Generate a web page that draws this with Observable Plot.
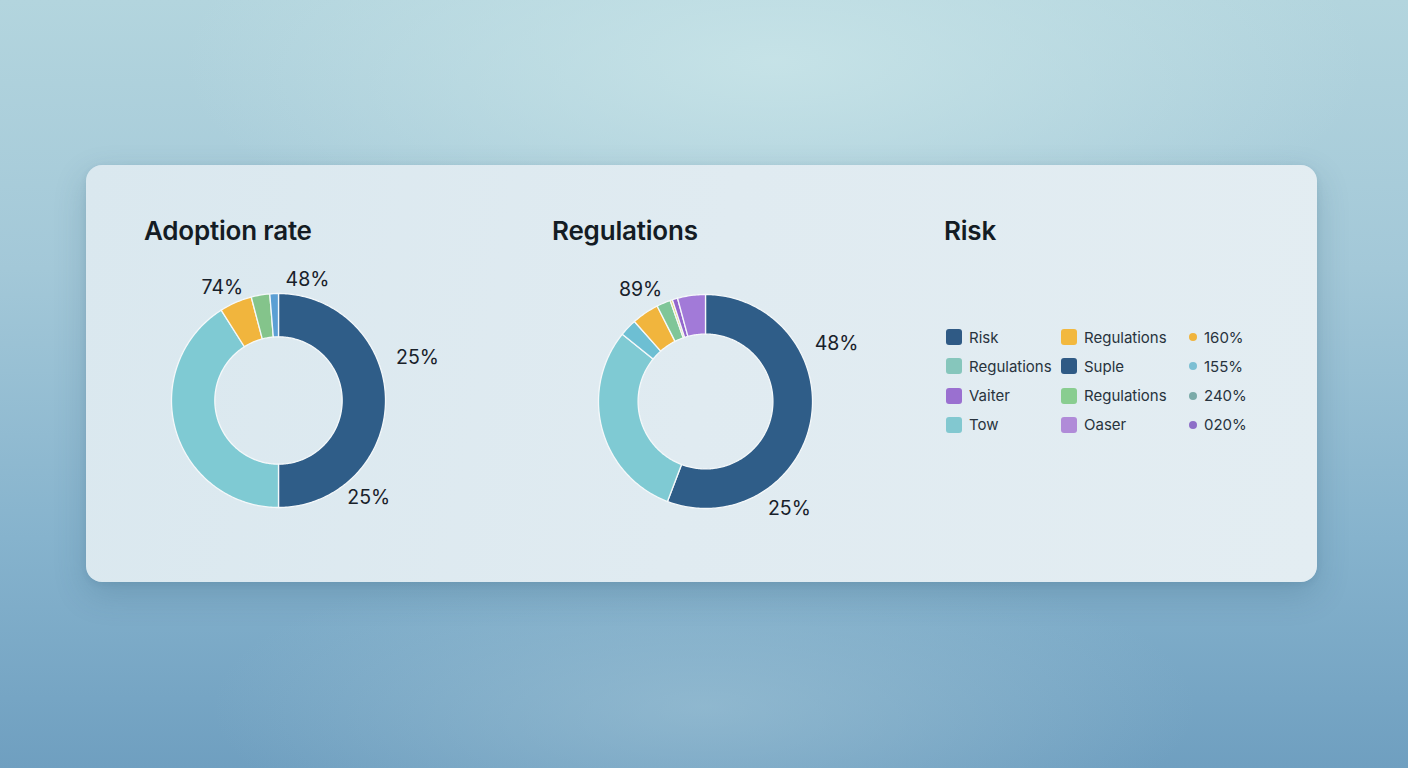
<!DOCTYPE html>
<html>
<head>
<meta charset="utf-8">
<script src="https://cdn.jsdelivr.net/npm/d3@7"></script>
<script src="https://cdn.jsdelivr.net/npm/@observablehq/plot@0.6"></script>
<style>
  html, body { margin: 0; padding: 0; }
  body {
    width: 1408px; height: 768px; overflow: hidden; position: relative;
    font-family: Inter, "Liberation Sans", sans-serif;
    background:
      radial-gradient(ellipse 60% 40% at 55% 8%, rgba(200,228,232,0.9), rgba(200,228,232,0) 70%),
      radial-gradient(ellipse 50% 30% at 50% 92%, rgba(160,196,214,0.6), rgba(160,196,214,0) 70%),
      linear-gradient(180deg, #b3d5de 0%, #a3c8d8 35%, #86b3cd 70%, #6f9fc0 100%);
  }
  .card {
    position: absolute; left: 86px; top: 165px; width: 1231px; height: 417px;
    border-radius: 16px;
    background: linear-gradient(100deg, #dae8ef 0%, #e0ebf1 50%, #e3edf2 100%);
    box-shadow: 0 12px 32px rgba(40, 80, 110, 0.22), 0 2px 6px rgba(40,80,110,0.10);
  }
  .title {
    position: absolute; font-size: 26px; font-weight: 600; color: #141c24;
    letter-spacing: -0.2px; line-height: 1;
  }
  .chart { position: absolute; }
  .chart svg { overflow: visible; }
  .legend { position: absolute; left: 944px; top: 323px; font-size: 15px; color: #28333d; }
  .row { position: absolute; height: 28px; display: flex; align-items: center; white-space: nowrap; }
  .sw { width: 16px; height: 16px; border-radius: 3px; margin-right: 7px; }
  .dot { width: 8px; height: 8px; border-radius: 50%; margin-right: 7px; }
</style>
</head>
<body>
<div class="card"></div>
<div class="title" style="left:144px; top:218px;">Adoption rate</div>
<div class="title" style="left:552px; top:218px;">Regulations</div>
<div class="title" style="left:944px; top:218px;">Risk</div>
<div id="c1" class="chart" style="left:108px; top:230px;"></div>
<div id="c2" class="chart" style="left:535px; top:231px;"></div>
<div id="legend" class="legend"></div>
<script>
// ---- data ----
const adoptionValues = [50, 41, 4.9, 2.8, 1.3];
const adoptionColors = ["#2f5d88", "#7fcad3", "#f1b53d", "#84c48b", "#5b9fd4"];
const adoptionLabels = ["74%", "48%", "25%", "25%"];
const adoptionLabelAngles = [-26.4, 13.5, 72.8, 137.1];
const adoptionLabelRadii = [1.18, 1.16, 1.36, 1.24];

const regulationsValues = [55.7, 30, 2.6, 4.1, 2.1, 0.35, 0.8, 4.2];
const regulationsColors = ["#2f5d88", "#7fcad3", "#6dbfd3", "#f1b53d", "#7fc698", "#e6d36a", "#9366cc", "#a27ad8"];
const regulationsLabels = ["89%", "48%", "25%"];
const regulationsLabelAngles = [-30.1, 66.1, 141.9];
const regulationsLabelRadii = [1.21, 1.34, 1.27];

const legendCol1 = ["Risk", "Regulations", "Vaiter", "Tow"];
const legendCol1Colors = ["#2f5a85", "#86c6bc", "#9a70d0", "#82c8d0"];
const legendCol2 = ["Regulations", "Suple", "Regulations", "Oaser"];
const legendCol2Colors = ["#f2b83e", "#2f5a85", "#89cd90", "#b08bd8"];
const legendCol3 = ["160%", "155%", "240%", "020%"];
const legendCol3Colors = ["#f0b43c", "#7cbfd3", "#7aaaa8", "#8e6fc8"];

// ---- donut drawing ----
function slicePolygons(values, inner, outer) {
  const total = d3.sum(values);
  let acc = 0;
  return values.map(v => {
    const a0 = acc / total * 2 * Math.PI; acc += v; const a1 = acc / total * 2 * Math.PI;
    const n = Math.max(2, Math.ceil((a1 - a0) / (Math.PI / 180)));
    const pts = [];
    for (let k = 0; k <= n; k++) { const a = a0 + (a1 - a0) * k / n; pts.push({x: outer * Math.sin(a), y: outer * Math.cos(a)}); }
    for (let k = n; k >= 0; k--) { const a = a0 + (a1 - a0) * k / n; pts.push({x: inner * Math.sin(a), y: inner * Math.cos(a)}); }
    pts.push(pts[0]);
    return pts;
  });
}

function donut(values, colors, labels, angles, radii, inner) {
  const size = 340, unit = 107, d = size / 2 / unit;
  const polys = slicePolygons(values, inner, 1);
  const labelData = labels.map((t, i) => ({
    text: t,
    x: radii[i] * Math.sin(angles[i] * Math.PI / 180),
    y: radii[i] * Math.cos(angles[i] * Math.PI / 180)
  }));
  return Plot.plot({
    width: size, height: size, margin: 0,
    x: {domain: [-d, d], axis: null},
    y: {domain: [-d, d], axis: null},
    style: {background: "transparent", fontFamily: "Inter, 'Liberation Sans', sans-serif", overflow: "visible"},
    marks: [
      ...polys.map((pts, i) => Plot.line(pts, {x: "x", y: "y", fill: colors[i], stroke: "#f4f8fa", strokeWidth: 1.3, strokeLinejoin: "round"})),
      Plot.text(labelData, {x: "x", y: "y", text: "text", fontSize: 19.5, fill: "#18212a"})
    ]
  });
}

document.getElementById("c1").appendChild(donut(adoptionValues, adoptionColors, adoptionLabels, adoptionLabelAngles, adoptionLabelRadii, 0.595));
document.getElementById("c2").appendChild(donut(regulationsValues, regulationsColors, regulationsLabels, regulationsLabelAngles, regulationsLabelRadii, 0.63));

// ---- legend ----
const legend = document.getElementById("legend");
function addCol(names, colors, left, cls) {
  names.forEach((n, i) => {
    const row = document.createElement("div");
    row.className = "row";
    row.style.left = left + "px";
    row.style.top = (i * 29.3) + "px";
    const s = document.createElement("div");
    s.className = cls; s.style.background = colors[i];
    const t = document.createElement("span"); t.textContent = n;
    row.appendChild(s); row.appendChild(t);
    legend.appendChild(row);
  });
}
addCol(legendCol1, legendCol1Colors, 2, "sw");
addCol(legendCol2, legendCol2Colors, 117, "sw");
addCol(legendCol3, legendCol3Colors, 245, "dot");
</script>
</body>
</html>
